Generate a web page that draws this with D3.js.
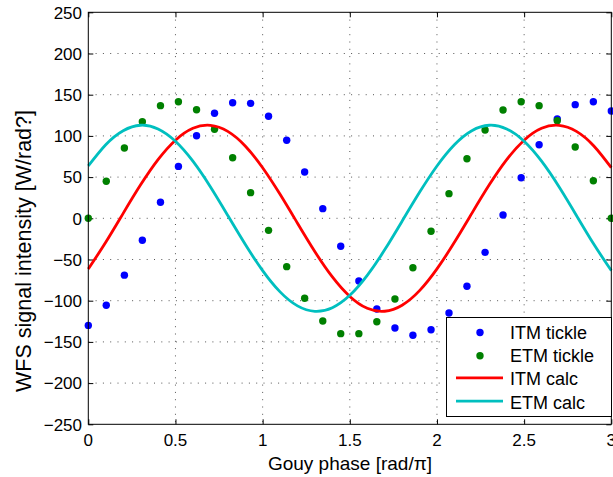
<!DOCTYPE html>
<html>
<head>
<meta charset="utf-8">
<script src="https://cdn.jsdelivr.net/npm/d3@7"></script>
<style>
  html, body { margin: 0; padding: 0; background: #fff; overflow: hidden; }
  svg { display: block; font-family: "Liberation Sans", Arial, Helvetica, sans-serif; }
  .tick-label { font-size: 17px; fill: #000; }
  .grid line { stroke: #555; stroke-width: 1; stroke-dasharray: 1,6.3; }
</style>
</head>
<body>
<svg width="613" height="477"></svg>
<script>
// tickle measurements (30 phases) and the calculated curves
var tickPhase = [0, 0.103, 0.207, 0.310, 0.414, 0.517, 0.621, 0.724, 0.828, 0.931,
                 1.034, 1.138, 1.241, 1.345, 1.448, 1.552, 1.655, 1.759, 1.862, 1.966,
                 2.069, 2.172, 2.276, 2.379, 2.483, 2.586, 2.690, 2.793, 2.897, 3.0];
var itmTickle = [-130, -105.6, -69, -26.7, 19.4, 63, 100.2, 127.4, 140.3, 139.5,
                 123.8, 94.7, 56.2, 11.7, -34, -76.1, -110, -133.1, -142, -135.2,
                 -114.9, -82.5, -41.3, 4, 49.3, 89.3, 120.5, 137.9, 141.5, 130.2];
var etmTickle = [0, 44.9, 85.3, 117.2, 136.7, 141.5, 131.8, 108, 73.5, 31.1,
                 -14.6, -58.7, -97.1, -124.6, -140, -140, -125.5, -98, -60, -15.8,
                 29.9, 72.3, 107.2, 131.4, 141.5, 136.7, 118.4, 86.5, 45.6, 0];

var calcPhase = [0, 0.1, 0.2, 0.3, 0.4, 0.5, 0.6, 0.7, 0.8, 0.9, 1.0,
                 1.1, 1.2, 1.3, 1.4, 1.5, 1.6, 1.7, 1.8, 1.9, 2.0,
                 2.1, 2.2, 2.3, 2.4, 2.5, 2.6, 2.7, 2.8, 2.9, 3.0];
var itmCalc = [-61.5, -29.1, 6.0, 40.6, 71.2, 94.8, 109.2, 112.8, 105.5, 87.8, 61.4,
               29.1, -6.0, -40.6, -71.2, -94.8, -109.2, -112.8, -105.5, -87.8, -61.4,
               -29.1, 6.0, 40.6, 71.2, 94.8, 109.2, 112.8, 105.5, 87.8, 61.4];
var etmCalc = [63.5, 89.3, 106.3, 112.9, 108.5, 93.5, 69.3, 38.3, 3.5, -31.5, -63.5,
               -89.3, -106.3, -112.9, -108.5, -93.5, -69.3, -38.3, -3.5, 31.5, 63.5,
               89.3, 106.3, 112.9, 108.5, 93.5, 69.3, 38.3, 3.5, -31.5, -63.5];

var xTicks = [0, 0.5, 1, 1.5, 2, 2.5, 3];
var yTicks = [-250, -200, -150, -100, -50, 0, 50, 100, 150, 200, 250];

var legendItems = [
  { label: "ITM tickle", kind: "dot",  color: "#0000ff" },
  { label: "ETM tickle", kind: "dot",  color: "#008000" },
  { label: "ITM calc",   kind: "line", color: "#ff0000" },
  { label: "ETM calc",   kind: "line", color: "#00bfbf" }
];

// plot box edges ("top" is taken by window.top, hence the prefix)
var svg = d3.select("svg"),
    plotLeft = 88.3, plotRight = 611.3, plotTop = 12.3, plotBottom = 424.3;

var x = d3.scaleLinear().domain([0, 3]).range([plotLeft, plotRight]),
    y = d3.scaleLinear().domain([-250, 250]).range([plotBottom, plotTop]);

var fmt = function(v) { return String(v).replace("-", "\u2212"); };

// dotted grid
var grid = svg.append("g").attr("class", "grid");
grid.selectAll("line.gx")
  .data(xTicks.slice(1, -1))
  .enter().append("line")
  .attr("x1", function(d) { return x(d); })
  .attr("x2", function(d) { return x(d); })
  .attr("y1", plotTop)
  .attr("y2", plotBottom);
grid.selectAll("line.gy")
  .data(yTicks.slice(1, -1))
  .enter().append("line")
  .attr("x1", plotLeft)
  .attr("x2", plotRight)
  .attr("y1", function(d) { return y(d); })
  .attr("y2", function(d) { return y(d); });

// inward ticks on all four sides, matlab style
var tickLen = 5;
var bottomAxis = d3.axisBottom(x).tickValues(xTicks).tickSize(-tickLen).tickFormat(""),
    topAxis = d3.axisTop(x).tickValues(xTicks).tickSize(-tickLen).tickFormat(""),
    leftAxis = d3.axisLeft(y).tickValues(yTicks).tickSize(-tickLen).tickFormat(""),
    rightAxis = d3.axisRight(y).tickValues(yTicks).tickSize(-tickLen).tickFormat("");

svg.append("g").attr("transform", "translate(0," + plotBottom + ")").call(bottomAxis);
svg.append("g").attr("transform", "translate(0," + plotTop + ")").call(topAxis);
svg.append("g").attr("transform", "translate(" + plotLeft + ",0)").call(leftAxis);
svg.append("g").attr("transform", "translate(" + plotRight + ",0)").call(rightAxis);
svg.selectAll(".domain").remove();
svg.selectAll(".tick line").attr("stroke", "#000").attr("stroke-width", 1);

// tick labels
svg.append("g").selectAll("text")
  .data(xTicks)
  .enter().append("text")
  .attr("class", "tick-label")
  .attr("x", function(d) { return x(d); })
  .attr("y", 446)
  .attr("text-anchor", "middle")
  .text(fmt);
svg.append("g").selectAll("text")
  .data(yTicks)
  .enter().append("text")
  .attr("class", "tick-label")
  .attr("x", 82)
  .attr("y", function(d) { return y(d) + 6.2; })
  .attr("text-anchor", "end")
  .text(fmt);

// axis titles
svg.append("text")
  .attr("x", 350)
  .attr("y", 470)
  .attr("text-anchor", "middle")
  .style("font-size", "19px")
  .text("Gouy phase [rad/\u03c0]");
svg.append("text")
  .attr("transform", "translate(31,251) rotate(-90)")
  .attr("text-anchor", "middle")
  .style("font-size", "21.5px")
  .text("WFS signal intensity [W/rad?]");

// measured points
function dots(values, color) {
  svg.append("g").selectAll("circle")
    .data(values)
    .enter().append("circle")
    .attr("cx", function(d, i) { return x(tickPhase[i]); })
    .attr("cy", function(d) { return y(d); })
    .attr("r", 3.7)
    .attr("fill", color);
}
dots(itmTickle, "#0000ff");
dots(etmTickle, "#008000");

// calculated curves
var line = d3.line()
  .x(function(d, i) { return x(calcPhase[i]); })
  .y(function(d) { return y(d); })
  .curve(d3.curveNatural);

[[itmCalc, "#ff0000"], [etmCalc, "#00bfbf"]].forEach(function(s) {
  svg.append("path")
    .datum(s[0])
    .attr("d", line)
    .attr("fill", "none")
    .attr("stroke", s[1])
    .attr("stroke-width", 2.8);
});

// axes box
svg.append("rect")
  .attr("x", plotLeft)
  .attr("y", plotTop)
  .attr("width", plotRight - plotLeft)
  .attr("height", plotBottom - plotTop)
  .attr("fill", "none")
  .attr("stroke", "#000")
  .attr("stroke-width", 1);

// legend
var legend = svg.append("g");
legend.append("rect")
  .attr("x", 446.5)
  .attr("y", 317.5)
  .attr("width", 165)
  .attr("height", 99)
  .attr("fill", "#fff")
  .attr("stroke", "#000")
  .attr("stroke-width", 1);

var entry = legend.selectAll("g.entry")
  .data(legendItems)
  .enter().append("g")
  .attr("transform", function(d, i) { return "translate(0," + (332.5 + i * 23.2) + ")"; });

entry.filter(function(d) { return d.kind === "dot"; })
  .append("circle")
  .attr("cx", 480)
  .attr("cy", 0)
  .attr("r", 3.7)
  .attr("fill", function(d) { return d.color; });
entry.filter(function(d) { return d.kind === "line"; })
  .append("line")
  .attr("x1", 456)
  .attr("x2", 503)
  .attr("y1", -1)
  .attr("y2", -1)
  .attr("stroke", function(d) { return d.color; })
  .attr("stroke-width", 2.8);
entry.append("text")
  .attr("x", 510)
  .attr("y", 6.5)
  .style("font-size", "18px")
  .text(function(d) { return d.label; });
</script>
</body>
</html>
